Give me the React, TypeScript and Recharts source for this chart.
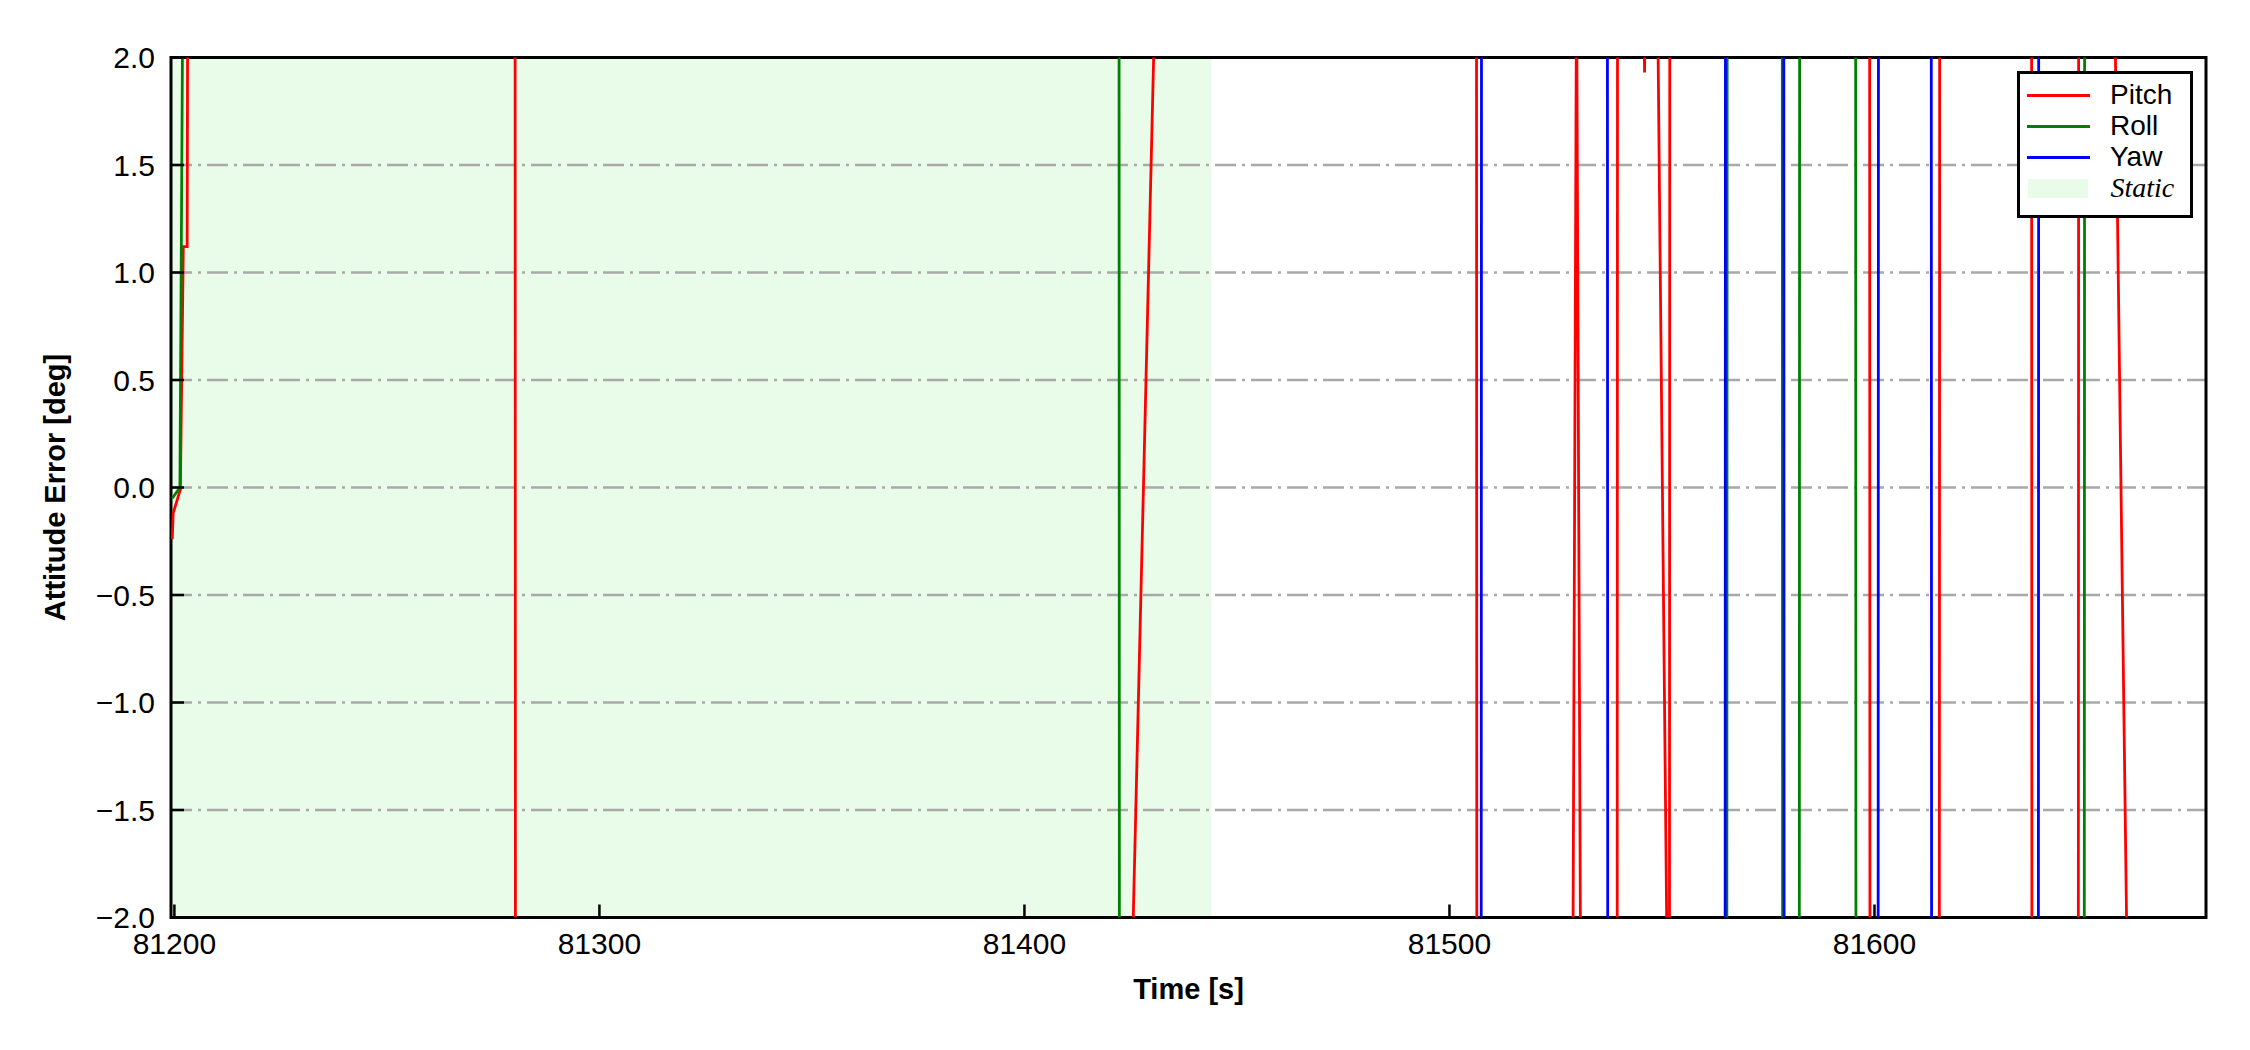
import React from 'react';
import { LineChart, Line, XAxis, YAxis, CartesianGrid, ReferenceArea, Legend } from 'recharts';

// ---- axes ----
const xTicks = [81200, 81300, 81400, 81500, 81600];
const yTicks = [-2, -1.5, -1, -0.5, 0, 0.5, 1, 1.5, 2];
const xDomain: [number, number] = [81199.2, 81678.0];
const yDomain: [number, number] = [-2, 2];

// ---- static interval ----
const staticStart = 81199.2;
const staticEnd = 81444;

// ---- Pitch ----
const pitchTime = [
  81199.5, 81199.7, 81201.4, 81202.1, 81203.0, 81203.2, 81280.15, 81280.25, 81425.0, 81431.0,
  81506.35, 81506.45, 81529.0, 81529.9, 81530.9, 81539.45, 81539.55, 81545.5, 81545.9, 81546.3,
  81549.0, 81551.2, 81551.75, 81551.85, 81598.85, 81598.95, 81615.25, 81615.35, 81636.95, 81637.05,
  81647.95, 81648.05, 81656.5, 81659.5, 81678.0,
];
const pitchValue = [
  -0.24, -0.12, -0.01, 1.12, 1.12, 3.0, 3.0, -3.0, -2.5, 2.5,
  3.0, -3.0, -2.5, 2.4, -2.5, -3.0, 3.0, 2.6, 1.93, 2.6,
  2.2, -2.2, -3.0, 3.0, 3.0, -3.0, -3.0, 3.0, 3.0, -3.0,
  -3.0, 3.0, 2.3, -2.3, -3.0,
];

// ---- Roll ----
const rollTime = [
  81199.5, 81201.3, 81201.9, 81202.2, 81422.25, 81422.35, 81565.25, 81565.35, 81578.3, 81578.4,
  81582.3, 81582.4, 81595.55, 81595.65, 81649.35, 81649.45, 81678.0,
];
const rollValue = [
  -0.05, 0.0, 2.05, 3.0, 3.0, -3.0, -3.0, 3.0, 3.0, -3.0,
  -3.0, 3.0, 3.0, -3.0, -3.0, 3.0, 3.0,
];

// ---- Yaw ----
const yawTime = [
  81199.5, 81507.45, 81507.55, 81537.15, 81537.25, 81564.85, 81564.95, 81578.65, 81578.75, 81600.85,
  81600.95, 81613.35, 81613.45, 81638.55, 81638.65, 81678.0,
];
const yawValue = [
  -3.0, -3.0, 3.0, 3.0, -3.0, -3.0, 3.0, 3.0, -3.0, -3.0,
  3.0, 3.0, -3.0, -3.0, 3.0, 3.0,
];

const toRows = (ts: number[], vs: number[]) => ts.map((t, i) => ({ t, v: vs[i] }));

const series = [
  { name: 'Pitch', color: '#ff0000', data: toRows(pitchTime, pitchValue) },
  { name: 'Roll', color: '#008000', data: toRows(rollTime, rollValue) },
  { name: 'Yaw', color: '#0000ff', data: toRows(yawTime, yawValue) },
];

const staticBase = '#90ee90';
const staticAlpha = 0.2;
const staticSolid = '#e9fce9';
const SANS = '"Liberation Sans", Arial, Helvetica, sans-serif';
const SERIF = '"Liberation Serif", "Times New Roman", serif';

const fmtY = (v: number) => v.toFixed(1).replace('-', '\u2212');

const W = 2250;
const H = 1050;
const plotLeft = 171;
const plotRight = 2206;
const plotTop = 57.5;
const plotBottom = 917.5;

const legendRows = [21.5, 52.5, 83.5, 114.5];

const LegendBox = () => (
  <div
    style={{
      position: 'relative',
      boxSizing: 'border-box',
      width: 176,
      height: 147,
      border: '3px solid #000',
      background: '#fff',
      fontFamily: SANS,
      color: '#000',
    }}
  >
    {series.map((s, i) => (
      <React.Fragment key={s.name}>
        <div
          style={{
            position: 'absolute',
            left: 7.5,
            top: legendRows[i] - 1.5,
            width: 63,
            height: 3,
            background: s.color,
          }}
        />
        <div
          style={{
            position: 'absolute',
            left: 90.5,
            top: legendRows[i] - 20,
            height: 40,
            lineHeight: '40px',
            fontSize: 28,
            whiteSpace: 'nowrap',
          }}
        >
          {s.name}
        </div>
      </React.Fragment>
    ))}
    <div
      style={{
        position: 'absolute',
        left: 8.5,
        top: legendRows[3] - 9.5,
        width: 60,
        height: 19,
        background: staticSolid,
      }}
    />
    <div
      style={{
        position: 'absolute',
        left: 91,
        top: legendRows[3] - 20,
        height: 40,
        lineHeight: '40px',
        fontSize: 28,
        fontFamily: SERIF,
        fontStyle: 'italic',
        whiteSpace: 'nowrap',
      }}
    >
      Static
    </div>
  </div>
);

export default function App() {
  return (
    <div style={{ position: 'absolute', left: 0, top: 0, width: W, height: H, background: '#fff' }}>
      <LineChart
        width={W}
        height={H}
        margin={{ top: plotTop, right: W - plotRight, left: 0, bottom: 0 }}
      >
        <ReferenceArea
          x1={staticStart}
          x2={staticEnd}
          y1={yDomain[0]}
          y2={yDomain[1]}
          fill={staticBase}
          fillOpacity={staticAlpha}
          stroke="none"
          ifOverflow="visible"
          {...({ zIndex: -150 } as any)}
        />
        <CartesianGrid
          vertical={false}
          stroke="#a9a9a9"
          strokeWidth={2.5}
          strokeDasharray="21 6 3 6"
        />
        <XAxis
          type="number"
          dataKey="t"
          domain={xDomain}
          allowDataOverflow
          ticks={xTicks}
          interval={0}
          height={H - plotBottom}
          axisLine={false}
          tickSize={-13}
          tickMargin={28}
          tickLine={{ stroke: '#000', strokeWidth: 2.5 }}
          tick={{ fontSize: 30, fill: '#000', fontFamily: SANS }}
          label={{
            content: () => (
              <text
                x={(plotLeft + plotRight) / 2}
                y={999}
                textAnchor="middle"
                fontSize={29}
                fontWeight="bold"
                fontFamily={SANS}
                fill="#000"
              >
                Time [s]
              </text>
            ),
          }}
        />
        <YAxis
          type="number"
          domain={yDomain}
          allowDataOverflow
          ticks={yTicks}
          interval={0}
          width={plotLeft}
          axisLine={false}
          tickSize={-13}
          tickMargin={29}
          tickLine={{ stroke: '#000', strokeWidth: 2.5 }}
          tick={{ fontSize: 30, fill: '#000', fontFamily: SANS }}
          tickFormatter={fmtY}
          label={{
            content: () => (
              <text
                x={65}
                y={(plotTop + plotBottom) / 2}
                transform={`rotate(-90 65 ${(plotTop + plotBottom) / 2})`}
                textAnchor="middle"
                fontSize={29}
                fontWeight="bold"
                fontFamily={SANS}
                fill="#000"
              >
                Attitude Error [deg]
              </text>
            ),
          }}
        />
        {series.map((s) => (
          <Line
            key={s.name}
            data={s.data}
            dataKey="v"
            name={s.name}
            type="linear"
            stroke={s.color}
            strokeWidth={2.8}
            dot={false}
            activeDot={false}
            isAnimationActive={false}
          />
        ))}
        <ReferenceArea
          x1={xDomain[0]}
          x2={xDomain[1]}
          y1={yDomain[0]}
          y2={yDomain[1]}
          fill="none"
          stroke="#000"
          strokeWidth={3}
          ifOverflow="visible"
        />
        <Legend
          layout="horizontal"
          verticalAlign="middle"
          align="center"
          wrapperStyle={{ left: 2016.5, top: 70.5, width: 176, height: 147 }}
          content={() => <LegendBox />}
        />
      </LineChart>
    </div>
  );
}
